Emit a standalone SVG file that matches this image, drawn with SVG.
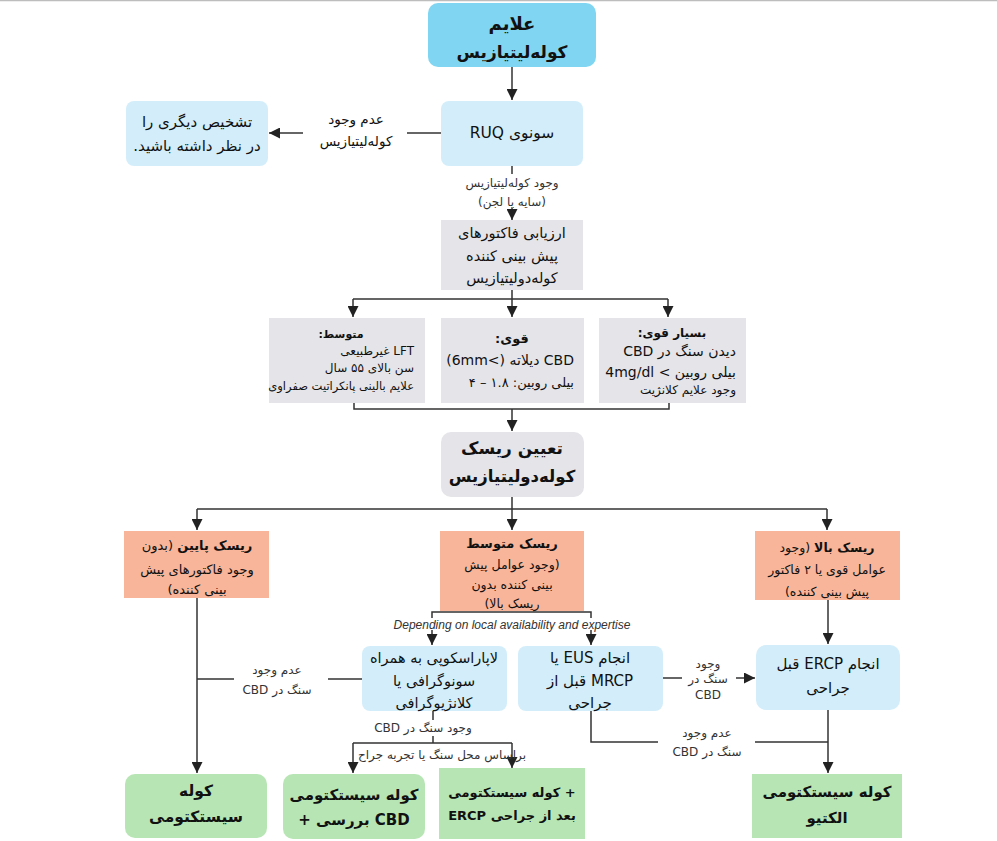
<svg xmlns="http://www.w3.org/2000/svg" width="997" height="841" viewBox="0 0 997 841">
<defs>
<marker id="ah" viewBox="0 0 10 10" refX="10" refY="5" markerWidth="11" markerHeight="11" markerUnits="userSpaceOnUse" orient="auto">
<path d="M0,0 L10,5 L0,10 z" fill="#222"/>
</marker>
<style>
text{font-family:"DejaVu Sans","Noto Sans",sans-serif;fill:#111;direction:rtl;text-anchor:middle;dominant-baseline:central}
.b{font-weight:bold}
.lbl{fill:#333;font-size:12px}
.en{font-family:"Liberation Sans",Arial,sans-serif;font-style:italic;direction:ltr;fill:#333;font-size:12px}
text.ltr{direction:ltr}
.r{text-anchor:start}
.cyan{fill:#80d6f2}
.lb{fill:#d3eefa}
.gr{fill:#e5e5e9}
.sa{fill:#f8b599}
.gn{fill:#b7e6b4}
.ln{fill:none;stroke:#333;stroke-width:1.5}
.ar{fill:none;stroke:#333;stroke-width:1.5;marker-end:url(#ah)}
</style>
</defs>
<rect x="0" y="0" width="997" height="841" fill="#fff"/>
<line x1="0" y1="0.5" x2="997" y2="0.5" stroke="#bdbdbd" stroke-width="1.5"/>

<g id="connectors">
<path class="ar" d="M512,67 V100"/>
<path class="ln" d="M441,133 H407"/>
<path class="ar" d="M303,133 H269"/>
<path class="ln" d="M512,166 V174"/>
<path class="ar" d="M512,208 V220"/>
<path class="ln" d="M512,290 V299 M353,299 H668"/>
<path class="ar" d="M353,299 V317"/>
<path class="ar" d="M512,299 V317"/>
<path class="ar" d="M668,299 V317"/>
<path class="ln" d="M354,403 V409 H669 V403"/>
<path class="ar" d="M512,409 V431"/>
<path class="ln" d="M512,497 V509 M197,509 H827"/>
<path class="ar" d="M197,509 V530"/>
<path class="ar" d="M512,509 V530"/>
<path class="ar" d="M827,509 V530"/>
<path class="ln" d="M432,618 V612 H591 V618"/>
<path class="ar" d="M432,630 V645"/>
<path class="ar" d="M591,630 V645"/>
<path class="ar" d="M197,598 V773"/>
<path class="ln" d="M197,679 H234 M328,679 H362"/>
<path class="ln" d="M663,678 H682"/>
<path class="ar" d="M736,678 H755"/>
<path class="ar" d="M828,600 V644"/>
<path class="ln" d="M591,711 V742 H658 M755,742 H828"/>
<path class="ar" d="M828,710 V773"/>
<path class="ln" d="M433,711 V720 M433,736 V743 M353,743 H512"/>
<path class="ar" d="M353,743 V773"/>
<path class="ar" d="M512,743 V768"/>
</g>

<g id="n-symptoms">
<rect class="cyan" x="428" y="3" width="168" height="64" rx="10"/>
<text class="b" x="512" y="23" font-size="18">علایم</text>
<text class="b" x="512" y="52" font-size="17">کوله‌لیتیازیس</text>
</g>

<g id="n-ruq">
<rect class="lb" x="441" y="101" width="142" height="65" rx="8"/>
<text x="512" y="133" font-size="15.5">سونوی RUQ</text>
</g>

<g id="n-other">
<rect class="lb" x="126" y="101" width="142" height="65" rx="8"/>
<text x="197" y="122" font-size="15">تشخیص دیگری را</text>
<text x="197" y="146" font-size="15">در نظر داشته باشید.</text>
</g>

<g id="l-no-stone">
<text x="356" y="119" font-size="13.5">عدم وجود</text>
<text x="356" y="141" font-size="13.5">کوله‌لیتیازیس</text>
</g>

<g id="l-stone">
<text class="lbl" x="512" y="183">وجود کوله‌لیتیازیس</text>
<text class="lbl" x="512" y="202">(سایه یا لجن)</text>
</g>

<g id="n-assess">
<rect class="gr" x="441" y="220" width="142" height="70"/>
<text x="512" y="233" font-size="14.5">ارزیابی فاکتورهای</text>
<text x="512" y="256" font-size="14.5">پیش بینی کننده</text>
<text x="512" y="278" font-size="14.5">کوله‌دولیتیازیس</text>
</g>

<g id="n-moderate">
<rect class="gr" x="269" y="318" width="156" height="85"/>
<text class="b" x="341" y="334" font-size="11">متوسط:</text>
<text class="r" x="414" y="351" font-size="12">LFT غیرطبیعی</text>
<text class="r" x="414" y="368" font-size="12">سن بالای ۵۵ سال</text>
<text class="r" x="414" y="386" font-size="11.5">علایم بالینی پانکراتیت صفراوی</text>
</g>

<g id="n-strong">
<rect class="gr" x="441" y="318" width="143" height="85"/>
<text class="b" x="512" y="338" font-size="13">قوی:</text>
<text class="r" x="574" y="360" font-size="14">CBD دیلاته (&gt;6mm)</text>
<text class="r" x="574" y="382" font-size="13">بیلی روبین: ۱.۸ – ۴</text>
</g>

<g id="n-verystrong">
<rect class="gr" x="599" y="318" width="147" height="85"/>
<text class="b" x="672" y="333" font-size="12">بسیار قوی:</text>
<text class="r" x="736" y="351" font-size="14">دیدن سنگ در CBD</text>
<text class="r" x="736" y="372" font-size="14">بیلی روبین &gt; 4mg/dl</text>
<text class="r" x="736" y="390" font-size="12">وجود علایم کلانژیت</text>
</g>

<g id="n-risk">
<rect class="gr" x="441" y="432" width="143" height="65" rx="10"/>
<text class="b" x="512" y="448" font-size="17">تعیین ریسک</text>
<text class="b" x="512" y="476" font-size="16.5">کوله‌دولیتیازیس</text>
</g>

<g id="n-low">
<rect class="sa" x="124" y="531" width="145" height="67"/>
<text x="197" y="545" font-size="13"><tspan class="b">ریسک پایین</tspan> (بدون</text>
<text x="197" y="569" font-size="13">وجود فاکتورهای پیش</text>
<text x="197" y="589" font-size="13">بینی کننده)</text>
</g>

<g id="n-mid">
<rect class="sa" x="440" y="531" width="144" height="80"/>
<text class="b" x="512" y="543" font-size="13">ریسک متوسط</text>
<text x="512" y="564" font-size="12.5">(وجود عوامل پیش</text>
<text x="512" y="584" font-size="12.5">بینی کننده بدون</text>
<text x="512" y="603" font-size="12.5">ریسک بالا)</text>
</g>

<g id="n-high">
<rect class="sa" x="755" y="531" width="145" height="69"/>
<text x="827" y="547" font-size="12.5"><tspan class="b">ریسک بالا</tspan> (وجود</text>
<text x="827" y="569" font-size="12.5">عوامل قوی یا ۲ فاکتور</text>
<text x="827" y="591" font-size="12.5">پیش بینی کننده)</text>
</g>

<g id="l-depending">
<text class="en" x="512" y="625">Depending on local availability and expertise</text>
</g>

<g id="n-lap">
<rect class="lb" x="362" y="646" width="145" height="65" rx="8"/>
<text x="434" y="658" font-size="14.5">لاپاراسکوپی به همراه</text>
<text x="434" y="681" font-size="14.5">سونوگرافی یا</text>
<text x="434" y="703" font-size="14.5">کلانژیوگرافی</text>
</g>

<g id="n-eus">
<rect class="lb" x="518" y="646" width="145" height="65" rx="8"/>
<text x="590" y="658" font-size="15">انجام EUS یا</text>
<text x="590" y="681" font-size="15">MRCP قبل از</text>
<text x="590" y="703" font-size="15">جراحی</text>
</g>

<g id="n-ercp">
<rect class="lb" x="756" y="645" width="144" height="65" rx="10"/>
<text x="828" y="664" font-size="15">انجام ERCP قبل</text>
<text x="828" y="688" font-size="15">جراحی</text>
</g>

<g id="l-eus-stone">
<text class="lbl" x="708" y="664" font-size="10">وجود</text>
<text class="lbl" x="708" y="679" font-size="10">سنگ در</text>
<text class="lbl" x="708" y="695" font-size="10">CBD</text>
</g>

<g id="l-lap-nostone">
<text class="lbl" x="277" y="670" font-size="12">عدم وجود</text>
<text class="lbl" x="277" y="690" font-size="13">سنگ در CBD</text>
</g>

<g id="l-eus-nostone">
<text class="lbl" x="707" y="733" font-size="12">عدم وجود</text>
<text class="lbl" x="707" y="752" font-size="13">سنگ در CBD</text>
</g>

<g id="l-lap-stone">
<text class="lbl" x="423" y="728" font-size="13">وجود سنگ در CBD</text>
<text class="lbl" x="442" y="755" font-size="12">براساس محل سنگ یا تجربه جراح</text>
</g>

<g id="n-chole">
<rect class="gn" x="125" y="774" width="142" height="64" rx="10"/>
<text class="b" x="196" y="791" font-size="15.5">کوله</text>
<text class="b" x="196" y="817" font-size="15.5">سیستکتومی</text>
</g>

<g id="n-chole-cbd">
<rect class="gn" x="283" y="774" width="142" height="65" rx="10"/>
<text class="b" x="354" y="795" font-size="15">کوله سیستکتومی</text>
<text class="b ltr" x="354" y="820" font-size="15">+ بررسی CBD</text>
</g>

<g id="n-chole-ercp">
<rect class="gn" x="439" y="768" width="146" height="71"/>
<text class="b ltr" x="512" y="792" font-size="13">کوله سیستکتومی +</text>
<text class="b ltr" x="512" y="815" font-size="13">ERCP بعد از جراحی</text>
</g>

<g id="n-elective">
<rect class="gn" x="752" y="774" width="150" height="64"/>
<text class="b" x="827" y="792" font-size="15">کوله سیستکتومی</text>
<text class="b" x="827" y="818" font-size="15">الکتیو</text>
</g>
</svg>
